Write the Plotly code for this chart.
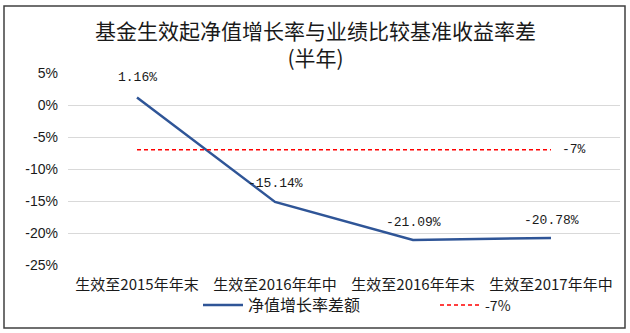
import plotly.graph_objects as go

# Chart data
categories = ["生效至2015年年末", "生效至2016年年中", "生效至2016年年末", "生效至2017年年中"]
spread = [1.16, -15.14, -21.09, -20.78]          # 净值增长率差额 (%)
benchmark = [-7, -7, -7, -7]                      # -7% 参考线
y_ticks = [5, 0, -5, -10, -15, -20, -25]

cjk = "Noto Sans CJK SC"
num_font = "Liberation Sans, Noto Sans CJK SC"
label_font = "Liberation Mono, monospace"
ink = "#1a1a1a"

W, H = 630, 333
ML, MR, MT, MB = 68, 10, 73, 68
PW, PH = W - ML - MR, H - MT - MB


def px_x(p):
    """Pixel x -> paper x."""
    return (p - ML) / PW


def px_y(p):
    """Pixel y (from top) -> paper y."""
    return (H - MB - p) / PH


fig = go.Figure()

fig.add_trace(go.Scatter(
    x=categories, y=spread, name="净值增长率差额",
    mode="lines",
    line=dict(color="#2f5597", width=2.5),
))

fig.add_trace(go.Scatter(
    x=categories, y=benchmark,
    name=f'<span style="font-size:14px">{benchmark[0]}%</span>',
    mode="lines",
    line=dict(color="#ff0000", width=1.5, dash="4px,3px"),
))

annotations = []
# value labels above the spread line
for cat, v, dy in zip(categories, spread, [20, 18, 17, 17]):
    annotations.append(dict(
        x=cat, y=v, xref="x", yref="y", text=f"{v:.2f}%",
        showarrow=False, xanchor="center", yanchor="middle", yshift=dy,
        font=dict(family=label_font, size=13, color=ink),
    ))
# label at the right end of the reference line
annotations.append(dict(
    x=categories[-1], y=benchmark[-1], xref="x", yref="y",
    text=f"{benchmark[-1]}%", showarrow=False,
    xanchor="left", yanchor="middle", xshift=9,
    font=dict(family=label_font, size=13, color=ink),
))
# two-line title
annotations.append(dict(
    x=px_x(315), y=px_y(44), xref="paper", yref="paper",
    text="基金生效起净值增长率与业绩比较基准收益率差<br>(半年)",
    showarrow=False, xanchor="center", yanchor="middle", align="center",
    font=dict(family=cjk, size=21, color=ink),
))

fig.update_layout(
    width=W, height=H,
    margin=dict(l=ML, r=MR, t=MT, b=MB, autoexpand=False),
    paper_bgcolor="white", plot_bgcolor="white",
    showlegend=True,
    legend=dict(
        orientation="h", x=px_x(198), xanchor="left",
        y=px_y(288), yanchor="top",
        font=dict(family=cjk, size=16, color=ink),
        itemwidth=40, entrywidth=182, bgcolor="rgba(0,0,0,0)",
    ),
    xaxis=dict(
        showgrid=False, showline=False, zeroline=False,
        tickfont=dict(family=cjk, size=15, color=ink),
        ticks="", ticklabelstandoff=9, range=[-0.5, 3.5],
        automargin=False,
    ),
    yaxis=dict(
        range=[-25, 5], tickvals=y_ticks,
        ticktext=[f"{v}%" for v in y_ticks],
        showgrid=True, gridcolor="#d9d9d9", gridwidth=1,
        zeroline=False, showline=False,
        tickfont=dict(family=num_font, size=14, color=ink),
        ticks="", ticklabelstandoff=9, automargin=False,
    ),
    annotations=annotations,
    shapes=[dict(
        type="rect", xref="paper", yref="paper",
        x0=px_x(4), x1=px_x(625), y0=px_y(328), y1=px_y(6),
        line=dict(color="#404040", width=1.5), fillcolor="rgba(0,0,0,0)",
        layer="below",
    )],
)

fig.write_html("out.html")
